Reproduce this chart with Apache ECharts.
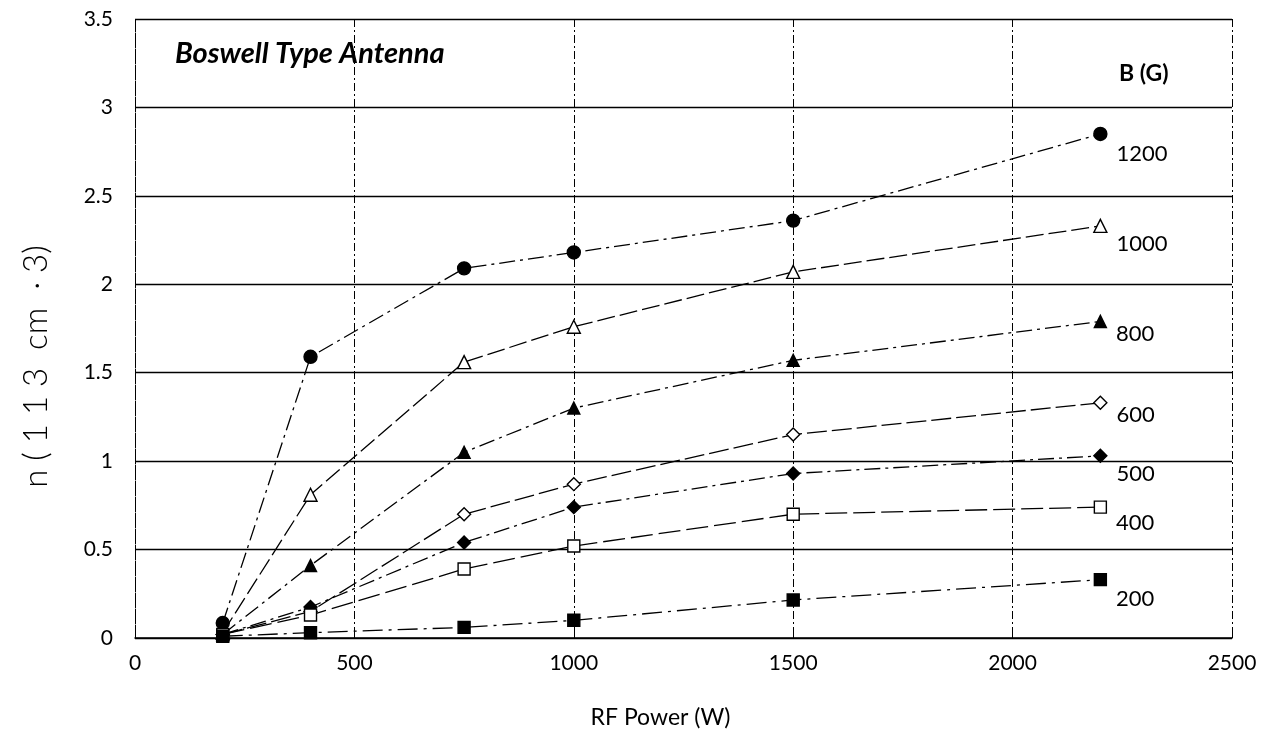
<!DOCTYPE html>
<html>
<head>
<meta charset="utf-8">
<script src="https://cdn.jsdelivr.net/npm/echarts@6/dist/echarts.min.js"></script>
<style>
html,body{margin:0;padding:0;background:#fff;}
#c{width:1278px;height:750px;}
</style>
</head>
<body>
<div id="c"></div>
<script>
var powers = [200, 400, 750, 1000, 1500, 2200];
var fieldLabels = ['1200', '1000', '800', '600', '500', '400', '200'];
var n1200 = [0.085, 1.59, 2.09, 2.18, 2.36, 2.85];
var n1000 = [0.03, 0.81, 1.56, 1.76, 2.07, 2.33];
var n800  = [0.02, 0.41, 1.05, 1.30, 1.57, 1.79];
var n600  = [0.02, 0.15, 0.70, 0.87, 1.15, 1.33];
var n500  = [0.02, 0.175, 0.54, 0.74, 0.93, 1.03];
var n400  = [0.02, 0.13, 0.39, 0.52, 0.70, 0.74];
var n200  = [0.01, 0.03, 0.06, 0.10, 0.215, 0.33];
var xTicks = [0, 500, 1000, 1500, 2000, 2500];
var yTicks = [0, 0.5, 1, 1.5, 2, 2.5, 3, 3.5];

var seriesValues = [n1200, n1000, n800, n600, n500, n400, n200];
var styles = [
  {symbol:'circle', filled:true, size:13, dash:[16,5,3,5], off:[4,20]},
  {symbol:'triangle', filled:false, size:13, dash:[18,5], off:[4,18]},
  {symbol:'triangle', filled:true, size:12, dash:[16,5,3,5], off:[4,12]},
  {symbol:'diamond', filled:false, size:13, dash:[20,5], off:[4,12]},
  {symbol:'diamond', filled:true, size:13, dash:[16,5,3,5], off:[4,18]},
  {symbol:'rect', filled:false, size:12, dash:[22,6], off:[4,16]},
  {symbol:'rect', filled:true, size:12, dash:[20,6,3,6], off:[4,19]}
];
var font = 'Lato, "Open Sans", sans-serif';

var series = seriesValues.map(function(vals, i){
  var st = styles[i];
  var data = vals.map(function(v, j){
    var d = {value:[powers[j], v]};
    if (j === vals.length - 1) {
      d.label = {show:true, formatter: fieldLabels[i], position:'right', offset: st.off,
        color:'#000', fontSize:22, fontFamily: font};
    }
    return d;
  });
  return {
    type:'line', name: fieldLabels[i], data: data,
    symbol: st.symbol, symbolSize: st.size,
    itemStyle:{color: st.filled ? '#000' : '#fff', borderColor:'#000', borderWidth:1.4},
    lineStyle:{color:'#000', width:1.3, type: st.dash},
    label:{show:false},
    z: 5
  };
});

var chart = echarts.init(document.getElementById('c'));
chart.setOption({
  animation:false,
  backgroundColor:'#fff',
  grid:{left:135, right:46, top:19, bottom:112},
  title:[
    {text:'Boswell Type Antenna', left:170, top:34,
     textStyle:{fontFamily:font, fontStyle:'italic', fontWeight:'bold', fontSize:29, color:'#000'}},
    {text:'B (G)', left:1114, top:57,
     textStyle:{fontFamily:font, fontWeight:'bold', fontSize:23, color:'#000'}}
  ],
  xAxis:{
    type:'value', min:xTicks[0], max:xTicks[xTicks.length-1], interval:500,
    name:'RF Power (W)', nameLocation:'middle', nameGap:68,
    nameTextStyle:{fontFamily:font, fontSize:23, color:'#000', padding:[0,46,0,0]},
    axisLine:{show:true, lineStyle:{color:'#000', width:1.5}},
    axisTick:{show:true, inside:true, length:4, lineStyle:{color:'#000'}},
    axisLabel:{fontFamily:font, fontSize:21, color:'#000', margin:15,
      formatter:function(v){return String(v);}},
    splitLine:{show:true, lineStyle:{color:'#000', width:1, type:[8,3,2,3]}}
  },
  yAxis:{
    type:'value', min:yTicks[0], max:yTicks[yTicks.length-1], interval:0.5,
    name:'n ( 1 1 3  cm  · 3)', nameLocation:'middle', nameGap:82,
    nameTextStyle:{fontFamily:font, fontSize:33, fontWeight:300, color:'#000', padding:[0,76,0,0]},
    axisLine:{show:true, lineStyle:{color:'#000', width:1, type:[8,3,2,3]}},
    axisTick:{show:true, inside:true, length:4, lineStyle:{color:'#000'}},
    axisLabel:{fontFamily:font, fontSize:21, color:'#000', margin:22},
    splitLine:{show:true, lineStyle:{color:'#000', width:1.4}}
  },
  series: series
});
</script>
</body>
</html>
